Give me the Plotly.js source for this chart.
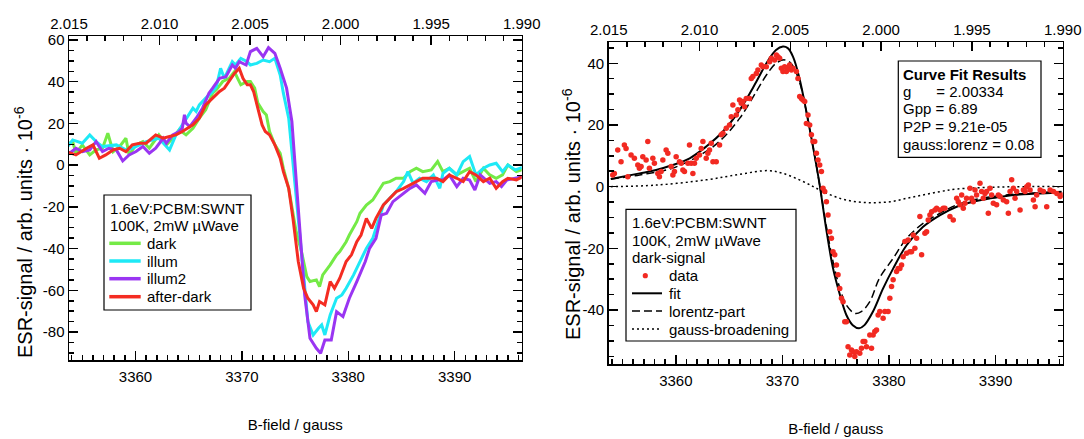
<!DOCTYPE html>
<html>
<head>
<meta charset="utf-8">
<script src="https://cdn.plot.ly/plotly-3.0.1.min.js"></script>
<style>html,body{margin:0;padding:0;background:#fff;}#chart{width:1084px;height:439px;}</style>
</head>
<body>
<div id="chart"></div>
<script>
// ---------- LEFT PANEL DATA (B-field / gauss, ESR signal / 1e-6) ----------
const darkB = [3353.5,3354.1,3354.4,3355.0,3355.7,3356.3,3356.9,3357.4,3357.9,3358.5,3359.1,3359.4,3360.05,3360.7,3361.3,3362.2,3362.9,3363.5,3364.1,3364.75,3365.4,3366.0,3366.6,3366.9,3367.25,3367.6,3368.2,3368.8,3369.3,3369.6,3369.9,3370.5,3370.8,3371.2,3371.5,3372.0,3372.3,3372.6,3373.1,3373.6,3373.9,3374.4,3374.7,3375.1,3375.6,3376.1,3376.4,3377.0,3377.3,3377.6,3378.3,3378.9,3379.2,3379.8,3380.1,3380.8,3381.1,3381.7,3382.3,3382.8,3383.3,3383.9,3384.5,3385.2,3385.8,3386.4,3387.0,3387.8,3388.4,3388.9,3389.5,3390.2,3390.8,3391.4,3392.0,3392.7,3393.3,3393.9,3394.5,3395.0,3395.8,3396.4];
const darkS = [9.7,11.3,5.7,9.7,4.9,7.3,8.1,15.3,6.5,8.9,12.9,4.9,9.7,11.3,8.1,14.5,9.7,12.9,16.9,14.5,17.7,22.5,26.5,30.5,34.5,36.1,40.1,41.6,44.8,41.6,38.5,40.1,40.1,36.9,29.7,25.7,24.1,16.1,9.7,5.7,-1.5,-11.1,-20.7,-31.9,-41.4,-53.4,-55.8,-55.0,-58.2,-52.6,-47.8,-43.0,-41.4,-36.7,-33.5,-27.1,-23.1,-19.1,-16.7,-12.7,-8.7,-7.9,-6.3,-6.3,-3.1,-1.5,-3.1,-2.3,1.7,-3.1,-1.5,-4.7,-3.1,-1.5,-7.9,-1.5,-4.7,-6.3,-4.7,0.1,-3.1,-2.0];

const illumB = [3353.5,3354.1,3355.0,3355.7,3356.3,3356.9,3358.2,3359.1,3359.7,3360.4,3361.0,3362.2,3363.2,3363.8,3364.4,3364.9,3365.4,3365.7,3366.0,3366.6,3367.25,3367.6,3368.0,3368.35,3369.1,3369.4,3369.9,3370.5,3370.8,3371.4,3372.0,3372.6,3373.1,3373.6,3373.9,3374.4,3374.8,3375.3,3375.8,3376.2,3376.7,3377.2,3377.5,3377.8,3378.3,3378.9,3379.4,3379.8,3380.5,3381.1,3381.7,3382.3,3382.8,3383.3,3383.9,3384.5,3385.2,3385.6,3386.1,3386.7,3387.35,3388.0,3388.6,3388.9,3389.5,3390.2,3390.8,3391.4,3392.0,3392.7,3393.3,3393.9,3394.5,3395.0,3395.7,3396.4];
const illumS = [8.1,12.1,10.5,14.5,11.3,8.9,9.7,7.3,8.1,9.7,11.3,12.9,7.3,14.5,19.3,23.3,27.3,25.7,28.9,32.1,35.3,37.7,46.4,41.6,49.6,48.0,51.2,49.6,48.0,48.8,50.4,49.6,51.2,43.2,34.5,22.5,1.7,-25.5,-52.6,-75.0,-81.4,-78.2,-76.6,-81.4,-71.8,-63.8,-62.2,-59.0,-52.6,-46.2,-39.9,-35.1,-27.1,-19.1,-15.9,-12.7,-7.9,-3.1,-8.7,-6.3,-7.9,-4.7,-11.1,-3.9,-1.5,-4.7,1.7,4.1,-4.7,-1.5,0.1,0.9,-3.1,0.1,-2.3,-1.0];

const illum2B = [3353.5,3353.8,3354.4,3355.0,3355.7,3356.3,3356.9,3357.5,3358.2,3358.8,3359.4,3360.05,3360.7,3361.3,3361.9,3362.6,3362.9,3363.5,3364.1,3364.4,3364.6,3364.75,3365.1,3365.7,3366.3,3366.9,3367.25,3367.9,3368.5,3369.1,3369.4,3369.75,3370.4,3370.8,3371.4,3372.0,3372.5,3373.1,3373.6,3374.2,3374.7,3375.0,3375.3,3375.6,3375.9,3376.4,3377.0,3377.4,3377.8,3378.4,3378.9,3379.5,3380.1,3380.8,3381.6,3382.0,3382.6,3383.1,3383.6,3384.2,3385.2,3385.8,3386.4,3387.2,3387.8,3388.4,3388.9,3389.5,3390.2,3390.8,3391.4,3391.9,3392.4,3393.3,3393.9,3394.4,3394.9,3395.6,3396.4];
const illum2S = [7.0,5.7,8.1,6.5,7.3,11.3,6.5,8.1,7.3,2.0,4.9,6.5,8.9,5.7,8.1,12.9,10.5,14.5,16.1,17.7,24.1,20.1,18.5,22.5,27.3,34.5,36.9,41.6,42.4,48.0,46.4,49.6,48.0,54.4,56.0,52.0,56.3,53.6,46.4,36.9,20.9,1.7,-20.7,-41.4,-62.2,-83.0,-87.8,-90.2,-83.8,-83.8,-70.2,-72.6,-63.8,-55.8,-46.2,-39.9,-35.1,-23.9,-23.1,-17.5,-13.5,-11.1,-9.5,-13.5,-7.9,-7.1,-7.1,-4.7,-10.3,-6.3,-7.1,-11.9,-4.7,-8.7,-7.9,-10.3,-7.1,-6.3,-5.5];

const afterB = [3353.5,3354.4,3355.4,3356.0,3356.6,3357.2,3357.9,3358.5,3359.1,3359.7,3360.4,3361.0,3361.9,3362.6,3363.2,3363.8,3364.4,3365.4,3366.0,3366.6,3367.25,3367.9,3368.35,3368.8,3369.3,3369.75,3370.1,3370.5,3370.8,3371.1,3371.5,3371.9,3372.2,3372.6,3373.1,3373.6,3373.9,3374.4,3374.8,3375.3,3375.8,3376.2,3376.7,3377.0,3377.3,3377.8,3378.3,3378.7,3379.2,3379.8,3380.3,3380.8,3381.2,3381.7,3382.2,3382.6,3383.3,3383.9,3384.5,3385.2,3385.8,3386.4,3387.0,3387.7,3388.3,3388.9,3389.5,3390.2,3390.8,3391.4,3392.0,3392.7,3393.3,3393.9,3394.5,3395.0,3395.8,3396.4];
const afterS = [6.5,4.9,8.1,9.7,3.3,4.9,7.3,8.1,6.5,9.7,10.5,10.5,14.5,12.9,13.7,14.5,16.1,19.3,22.5,28.9,32.1,35.3,36.9,40.1,44.0,46.4,41.6,38.5,38.5,35.3,27.3,19.3,16.1,14.5,9.7,3.3,-3.1,-11.1,-25.5,-46.2,-59.0,-63.8,-67.0,-70.2,-65.4,-67.0,-55.8,-59.0,-54.2,-46.2,-43.0,-36.7,-33.5,-25.5,-30.3,-25.5,-19.1,-15.9,-12.7,-11.1,-9.5,-7.9,-6.3,-6.3,-6.3,-7.9,-4.7,-6.3,-7.9,-3.1,-4.7,-7.9,-6.3,-11.1,-7.9,-6.3,-7.1,-5.5];

// ---------- RIGHT PANEL DATA ----------
const dataB = [3354.08,3354.23,3354.55,3354.86,3355.17,3355.33,3355.49,3355.80,3356.11,3356.43,3356.58,3356.74,3356.90,3357.21,3357.37,3357.52,3357.84,3357.99,3358.31,3358.46,3358.62,3358.78,3359.09,3359.25,3359.56,3359.72,3359.87,3360.03,3360.34,3360.50,3360.66,3360.81,3361.13,3361.28,3361.44,3361.60,3361.75,3361.91,3362.22,3362.38,3362.54,3362.85,3363.01,3363.16,3363.32,3363.48,3363.79,3364.10,3364.26,3364.42,3364.73,3365.04,3365.20,3365.35,3365.67,3365.82,3365.98,3366.14,3366.29,3366.45,3366.61,3366.92,3367.08,3367.23,3367.55,3367.70,3368.02,3368.17,3368.49,3368.80,3368.96,3369.27,3369.43,3369.58,3369.74,3369.90,3370.05,3370.21,3370.37,3370.52,3370.68,3370.84,3370.99,3371.31,3371.46,3371.62,3371.78,3371.93,3372.09,3372.25,3372.40,3372.56,3372.72,3372.87,3373.03,3373.19,3373.34,3373.50,3373.66,3373.81,3373.97,3374.13,3374.28,3374.44,3374.60,3374.75,3374.91,3375.07,3375.22,3375.38,3375.54,3375.69,3375.85,3376.01,3376.16,3376.32,3376.48,3376.63,3376.79,3376.95,3377.26,3377.42,3377.57,3377.73,3377.89,3378.20,3378.36,3378.51,3378.67,3378.83,3378.98,3379.14,3379.45,3379.61,3379.92,3380.08,3380.24,3380.39,3380.71,3380.86,3381.02,3381.18,3381.33,3381.49,3381.65,3381.80,3381.96,3382.12,3382.27,3382.43,3382.59,3382.90,3383.06,3383.37,3383.53,3383.68,3383.84,3384.00,3384.31,3384.47,3384.78,3385.09,3385.25,3385.72,3386.03,3386.35,3386.50,3386.66,3386.82,3386.97,3387.13,3387.28,3387.60,3387.75,3387.91,3388.07,3388.22,3388.54,3388.69,3388.85,3389.01,3389.16,3389.32,3389.48,3389.63,3389.79,3390.10,3390.26,3390.42,3390.73,3391.04,3391.20,3391.36,3391.51,3391.67,3391.83,3391.98,3392.30,3392.61,3392.77,3392.92,3393.08,3393.24,3393.55,3393.71,3393.86,3394.18,3394.49,3394.80,3395.12,3395.43,3395.75,3396.06,3396.22];
const dataS = [3.8,4.3,11.9,8.1,13.5,12.4,3.2,10.3,9.2,7.0,6.0,6.5,9.7,8.6,14.6,6.0,9.2,7.6,4.3,3.2,4.9,8.6,11.9,10.8,6.5,3.8,4.9,9.7,8.1,7.6,5.4,4.9,7.6,13.5,7.6,4.3,7.6,9.2,10.3,12.4,14.6,9.2,10.8,11.9,14.1,8.1,8.1,13.5,16.8,17.3,18.9,20.0,22.7,26.5,23.2,24.9,28.1,27.0,27.6,25.9,28.6,28.6,35.1,35.7,36.7,37.8,39.4,38.9,38.9,40.5,41.6,41.1,42.7,42.1,41.6,38.4,37.3,38.9,37.3,38.4,39.4,37.8,38.4,37.3,35.1,29.2,28.6,28.1,27.6,20.5,23.2,20.0,16.8,14.6,14.6,10.8,8.6,7.0,4.9,-0.5,-1.6,-4.9,-9.2,-14.6,-16.7,-21.1,-22.1,-25.4,-28.6,-33.0,-36.2,-37.3,-43.8,-43.8,-51.9,-54.6,-53.0,-53.5,-55.1,-53.5,-54.0,-52.4,-50.2,-50.2,-51.9,-48.1,-52.4,-48.1,-47.0,-46.5,-41.6,-40.5,-42.7,-40.5,-40.5,-36.2,-32.4,-30.2,-27.5,-26.5,-26.5,-25.4,-22.7,-17.8,-21.6,-17.3,-21.1,-21.1,-15.7,-20.0,-16.7,-9.7,-22.1,-15.1,-14.6,-10.8,-9.2,-8.1,-7.6,-7.0,-7.6,-7.0,-7.0,-9.7,-10.8,-3.8,-4.9,-5.9,-2.7,-7.0,-5.4,-3.8,-0.5,-3.8,-4.9,-1.1,-2.7,1.1,-1.6,-3.8,-2.2,-1.6,-8.6,-0.5,-2.7,-5.4,-5.9,-2.7,-3.2,-4.3,-4.9,-8.6,-1.6,2.2,-0.5,-3.8,-1.6,-7.6,-1.1,-1.6,0.0,0.5,-1.1,-4.3,-6.5,-2.7,-1.1,-1.6,-6.5,-1.1,-1.6,-2.2,-3.2,-2.7];

const fitB = [3353.9,3356.6,3358.15,3359.7,3361.3,3362.85,3364.4,3366.0,3367.55,3368.5,3369.4,3370.05,3370.5,3371.0,3371.6,3372.25,3372.9,3373.5,3374.1,3374.75,3375.4,3376.0,3376.6,3377.2,3377.7,3378.5,3379.45,3380.4,3381.65,3383.2,3384.8,3386.35,3387.9,3389.5,3391.0,3392.6,3394.2,3396.2];
const fitS = [2.5,4.3,5.4,7.0,9.2,13.0,17.8,24.9,34.0,40.0,44.3,45.4,44.9,42.1,35.1,24.3,12.4,0.5,-13.5,-26.5,-35.1,-41.6,-44.9,-45.9,-44.9,-40.5,-33.0,-26.5,-19.0,-13.0,-9.2,-6.5,-4.9,-3.8,-3.0,-2.5,-2.2,-1.9];

const lorB = [3353.9,3356.6,3359.7,3362.85,3364.4,3366.0,3367.55,3368.5,3369.4,3370.2,3370.8,3371.6,3372.25,3372.9,3373.5,3374.1,3374.75,3375.4,3376.0,3376.8,3377.4,3378.2,3379.1,3380.4,3381.65,3383.2,3384.8,3386.35,3387.9,3391.0,3394.2,3396.2];
const lorS = [2.5,3.8,6.0,11.4,15.7,22.2,30.8,36.2,40.0,41.1,40.0,34.0,24.3,12.4,0.5,-12.4,-24.3,-33.0,-38.4,-41.1,-40.5,-37.3,-29.7,-23.2,-16.8,-11.9,-8.6,-5.9,-4.3,-2.7,-1.9,-1.6];

const gaussB = [3353.9,3358.15,3362.85,3366.0,3368.65,3370.05,3371.6,3372.9,3373.8,3375.4,3376.95,3378.5,3380.1,3381.65,3383.2,3384.8,3386.35,3389.5,3392.6,3396.2];
const gaussS = [0.0,0.5,2.2,4.0,5.2,4.3,2.2,0.0,-1.6,-3.8,-4.9,-5.2,-4.9,-3.8,-2.7,-1.6,-0.8,-0.2,0.0,0.0];

// ---------- AXES / TICKS / TEXT ----------
const gRange = [2.015, 1.990];            // g-factor scale on the top axes
const leftBRange = [3353.75, 3396.3];
const rightBRange = [3353.7, 3396.3];
const leftYRange = [-93.4, 61.9];
const rightYRange = [-57.5, 46.8];
const leftYTicks = [-80,-60,-40,-20,0,20,40,60];
const leftYLabels = ['-80','-60','-40','-20','0','20','40','60'];
const rightYTicks = [-40,-20,0,20,40];
const rightYLabels = ['-40','-20','0','20','40'];
const xTitle = 'B-field / gauss';
const yTitle = 'ESR-signal / arb. units \u00b7 10<sup>-6</sup>';
const legendLeftHeader = ['1.6eV:PCBM:SWNT','100K, 2mW \u00b5Wave'];
const legendLeftNames = ['dark','illum','illum2','after-dark'];
const legendRightHeader = ['1.6eV:PCBM:SWNT','100K, 2mW \u00b5Wave','dark-signal'];
const legendRightNames = ['data','fit','lorentz-part','gauss-broadening'];
const fitTitle = 'Curve Fit Results';
const fitResults = ['g\u00a0\u00a0\u00a0\u00a0\u00a0\u00a0= 2.00334','Gpp = 6.89','P2P = 9.21e-05','gauss:lorenz = 0.08'];

const colors = {dark:'#74ea46', illum:'#1ee9f6', illum2:'#9a35f2', after:'#f42c22', data:'#f22a22'};

// ---------- LAYOUT helpers (pixel -> paper) ----------
const W = 1084, H = 439;
const X = px => px / W;
const Y = py => 1 - py / H;
const FONT = 'Liberation Sans, Arial, sans-serif';

const traces = [
  {x: darkB, y: darkS, xaxis:'x', yaxis:'y', mode:'lines', line:{color:colors.dark, width:3}, name:'dark'},
  {x: illumB, y: illumS, xaxis:'x', yaxis:'y', mode:'lines', line:{color:colors.illum, width:3}, name:'illum'},
  {x: illum2B, y: illum2S, xaxis:'x', yaxis:'y', mode:'lines', line:{color:colors.illum2, width:3}, name:'illum2'},
  {x: afterB, y: afterS, xaxis:'x', yaxis:'y', mode:'lines', line:{color:colors.after, width:3}, name:'after-dark'},
  {x: gaussB, y: gaussS, xaxis:'x2', yaxis:'y2', mode:'lines', line:{color:'#000', width:1.5, dash:'2px,3px', shape:'spline'}, name:'gauss-broadening'},
  {x: lorB, y: lorS, xaxis:'x2', yaxis:'y2', mode:'lines', line:{color:'#000', width:1.5, dash:'8px,4px', shape:'spline'}, name:'lorentz-part'},
  {x: fitB, y: fitS, xaxis:'x2', yaxis:'y2', mode:'lines', line:{color:'#000', width:2, shape:'spline'}, name:'fit'},
  {x: dataB, y: dataS, xaxis:'x2', yaxis:'y2', mode:'markers', marker:{color:colors.data, size:5.5}, name:'data'},
  // empty carriers so that the g-factor top axes are drawn
  {x: gRange, y: [null, null], xaxis:'x3', yaxis:'y', mode:'markers', marker:{opacity:0}, hoverinfo:'skip', name:'g'},
  {x: gRange, y: [null, null], xaxis:'x4', yaxis:'y2', mode:'markers', marker:{opacity:0}, hoverinfo:'skip', name:'g2'}
];

const minorTicks = d => ({dtick:d, ticklen:5, ticks:'inside', tickwidth:1.5, tickcolor:'#000'});
const baseAxis = {
  showgrid:false, zeroline:false, showline:true, linecolor:'#000', linewidth:1.5,
  ticks:'inside', ticklen:9, tickwidth:1.5, tickcolor:'#000',
  tickfont:{family:FONT, size:15, color:'#000'}, fixedrange:true
};

const LD = {x:[X(69), X(521.7)], y:[Y(360), Y(36)]};
const RD = {x:[X(608.7), X(1062.7)], y:[Y(364), Y(42.3)]};

const layout = {
  width: W, height: H,
  margin:{l:0, r:0, t:0, b:0},
  paper_bgcolor:'#fff', plot_bgcolor:'#fff',
  showlegend:false,
  font:{family:FONT, size:15, color:'#000'},
  xaxis: Object.assign({}, baseAxis, {domain:LD.x, anchor:'y', range:leftBRange, dtick:10, tick0:3360,
    minor:minorTicks(1), ticklabelstandoff:2,
    title:{text:xTitle, font:{family:FONT, size:15}, standoff:36}}),
  yaxis: Object.assign({}, baseAxis, {domain:LD.y, anchor:'x', range:leftYRange, tickvals:leftYTicks, ticktext:leftYLabels,
    minor:minorTicks(5), mirror:'ticks'}),
  xaxis3: Object.assign({}, baseAxis, {overlaying:'x', side:'top', anchor:'y', range:gRange, dtick:0.005, tick0:2.0, tickformat:'.3f',
    minor:minorTicks(0.001)}),
  xaxis2: Object.assign({}, baseAxis, {domain:RD.x, anchor:'y2', range:rightBRange, dtick:10, tick0:3360,
    minor:minorTicks(1), ticklabelstandoff:2,
    title:{text:xTitle, font:{family:FONT, size:15}, standoff:36}}),
  yaxis2: Object.assign({}, baseAxis, {domain:RD.y, anchor:'x2', range:rightYRange, tickvals:rightYTicks, ticktext:rightYLabels,
    minor:minorTicks(5), mirror:'ticks'}),
  xaxis4: Object.assign({}, baseAxis, {overlaying:'x2', side:'top', anchor:'y2', range:gRange, dtick:0.005, tick0:2.0, tickformat:'.3f',
    minor:minorTicks(0.001)}),
  shapes: [],
  annotations: []
};

function addText(txt, px, py, opts) {
  layout.annotations.push(Object.assign({
    text: txt, xref:'paper', yref:'paper', x: X(px), y: Y(py),
    xanchor:'left', yanchor:'middle', showarrow:false,
    font:{family:FONT, size:15, color:'#000'}
  }, opts || {}));
}
function addBox(x0, y0, x1, y1) {
  layout.shapes.push({type:'rect', xref:'paper', yref:'paper', x0:X(x0), x1:X(x1), y0:Y(y0), y1:Y(y1),
    line:{color:'#000', width:1.2}, fillcolor:'rgba(255,255,255,1)', layer:'above'});
}
function addSampleLine(x0, x1, py, color, width, dash) {
  layout.shapes.push({type:'line', xref:'paper', yref:'paper', x0:X(x0), x1:X(x1), y0:Y(py), y1:Y(py),
    line:{color:color, width:width, dash:dash || 'solid'}, layer:'above'});
}

// Y axis titles (rotated text, placed like the reference)
addText(yTitle, 23, 232, {textangle:-90, xanchor:'center', yanchor:'middle', font:{family:FONT, size:20, color:'#000'}});
addText(yTitle, 572, 214, {textangle:-90, xanchor:'center', yanchor:'middle', font:{family:FONT, size:20, color:'#000'}});

// Left legend box
addBox(104, 195, 251, 310);
const lRows = [208.3, 225.7, 243.3, 261, 278.7, 296.7];
legendLeftHeader.forEach((t, i) => addText(t, 108, lRows[i]));
const lCols = [colors.dark, colors.illum, colors.illum2, colors.after];
legendLeftNames.forEach((t, i) => {
  addSampleLine(109.3, 140.7, lRows[i + 2], lCols[i], 3.5);
  addText(t, 145, lRows[i + 2]);
});

// Right legend box
addBox(626, 209.3, 796, 341);
const rRows = [222.7, 240, 257.7, 275.7, 293.3, 311, 329];
legendRightHeader.forEach((t, i) => addText(t, 630, rRows[i]));
layout.shapes.push({type:'circle', xref:'paper', yref:'paper', x0:X(642.7), x1:X(647.9), y0:Y(rRows[3] - 2.6), y1:Y(rRows[3] + 2.6),
  line:{color:colors.data, width:0}, fillcolor:colors.data, layer:'above'});
addSampleLine(632, 662, rRows[4], '#000', 2);
addSampleLine(632, 662, rRows[5], '#000', 1.5, '8px,4px');
addSampleLine(632, 662, rRows[6], '#000', 1.5, '2px,3px');
legendRightNames.forEach((t, i) => addText(t, 667, rRows[i + 3]));

// Curve fit results box
addBox(898.3, 61, 1041, 157.3);
addText('<b>' + fitTitle + '</b>', 901, 74);
const fRows = [91.7, 109, 126.7, 144.3];
fitResults.forEach((t, i) => addText(t, 901, fRows[i]));

Plotly.newPlot('chart', traces, layout, {staticPlot:true, displayModeBar:false}).then(gd => {
  // drop the empty placeholder title nodes of the untitled axes
  gd.querySelectorAll('svg text').forEach(t => { if (!t.textContent.trim()) t.remove(); });
});
</script>
</body>
</html>
